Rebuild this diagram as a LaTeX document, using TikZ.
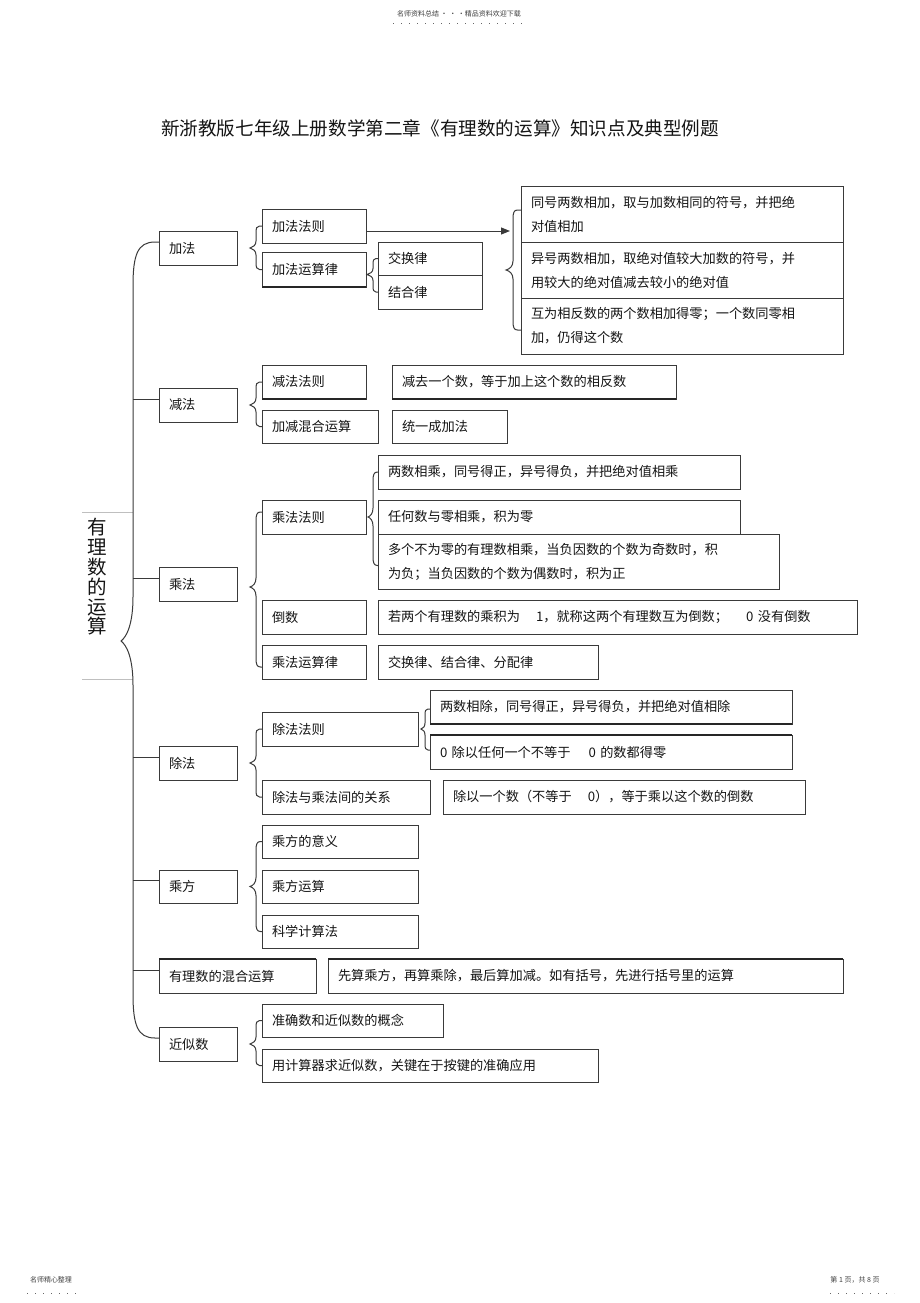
\documentclass[tikz,border=0pt]{standalone}
\usepackage{fontspec}
\setmainfont{Noto Sans CJK SC}
\usetikzlibrary{calc,arrows.meta}
\definecolor{lineC}{HTML}{3A3A3A}
\definecolor{textC}{HTML}{151515}
\tikzset{
  box/.style={draw=lineC, line width=1pt, inner xsep=10pt, inner ysep=0pt, outer sep=0pt,
    align=left, text=textC, font=\fontsize{13.2}{24}\selectfont},
  brc/.style={draw=lineC, line width=1pt},
  conn/.style={draw=lineC, line width=1pt},
  thk/.style={draw=black!85, line width=2pt},
  small/.style={text=black!75, font=\fontsize{7}{8}\selectfont, inner sep=0pt},
  dots/.style={draw=black!60, line width=0.8pt, dash pattern=on 0.8pt off 7.2pt}
}
\newcommand\bx[7][]{%
  \pgfmathsetmacro\bw{#5-#3}\pgfmathsetmacro\bh{#6-#4}\pgfmathsetmacro\tw{#5-#3-20}%
  \node[box,#1,anchor=north west,minimum width=\bw pt,minimum height=\bh pt,text width=\tw pt] (#2) at (#3,#4) {#7};}
% #1 arm length, #2 top end, #3 bottom end, #4 tip, #5 distance of spine from ends
\newcommand\curly[5][7pt]{%
  \draw[brc] let \p1=(#2), \p2=(#3), \p3=(#4) in
   (\p1) -- ({\x1-#5+0.5*#1},\y1)
   .. controls ({\x1-#5+0.1*#1},\y1) and ({\x1-#5},{\y1-0.3*#1}) .. ({\x1-#5},{\y1-#1})
   -- ({\x1-#5},{\y3+#1})
   .. controls ({\x1-#5},{\y3+0.4*#1}) and ({0.5*\x3+0.5*\x1-0.5*#5},{\y3+0.1*#1}) .. (\p3)
   .. controls ({0.5*\x3+0.5*\x1-0.5*#5},{\y3-0.1*#1}) and ({\x1-#5},{\y3-0.4*#1}) .. ({\x1-#5},{\y3-#1})
   -- ({\x1-#5},{\y2+#1})
   .. controls ({\x1-#5},{\y2+0.3*#1}) and ({\x1-#5+0.1*#1},\y2) .. ({\x1-#5+0.5*#1},\y2) -- (\p2);}
\begin{document}
\begin{tikzpicture}[x=1pt,y=-1pt]
\useasboundingbox[fill=white] (0,0) rectangle (920,1303);
% header / footer
\node[small] (hdr) at (459,14) {名师资料总结 · · ·精品资料欢迎下载};
\coordinate (hdl) at (393,23); \coordinate (hdr2) at (528,23);
\draw[dots] (hdl) -- (hdr2);
\node[small] (ftl) at (51,1280) {名师精心整理};
\coordinate (fl1) at (27,1293); \coordinate (fl2) at (76,1293);
\draw[dots] (fl1) -- (fl2);
\node[small] (ftr) at (855,1280) {第 1 页，共 8 页};
\coordinate (fr1) at (830,1293); \coordinate (fr2) at (894,1293);
\draw[dots] (fr1) -- (fr2);
% title
\node[text=textC, font=\fontsize{18.6}{20}\selectfont, inner sep=0pt] (title) at (440,128)
  {新浙教版七年级上册数学第二章《有理数的运算》知识点及典型例题};
% root
\node[text=textC, font=\fontsize{19.5}{19.8}\selectfont, align=center, inner sep=0pt] (root) at (97,577)
  {有\\理\\数\\的\\运\\算};
\coordinate (g1a) at (82,512); \coordinate (g1b) at (133,512);
\coordinate (g2a) at (82,679); \coordinate (g2b) at (133,679);
\draw[black!25, line width=0.6pt] (g1a) -- (g1b);
\draw[black!25, line width=0.6pt] (g2a) -- (g2b);
% ---- level 1
\bx{jiafa}{159}{231}{237}{265}{加法}
\bx{jianfa}{159}{388}{237}{422}{减法}
\bx{chengfa}{159}{567}{237}{601}{乘法}
\bx{chufa}{159}{746}{237}{780}{除法}
\bx{chengfang}{159}{870}{237}{903}{乘方}
\bx{hun}{159}{959}{316}{993}{有理数的混合运算}
\bx{jinsi}{159}{1027}{237}{1061}{近似数}
% ---- 加法
\bx{jf1}{262}{209}{366}{243}{加法法则}
\bx{jf2}{262}{252}{366}{287}{加法运算律}
\bx{jh}{378}{242}{482}{275}{交换律}
\bx{jhe}{378}{275}{482}{309}{结合律}
\bx{r1}{521}{186}{843}{242}{同号两数相加，取与加数相同的符号，并把绝\\对值相加}
\bx{r2}{521}{242}{843}{298}{异号两数相加，取绝对值较大加数的符号，并\\用较大的绝对值减去较小的绝对值}
\bx{r3}{521}{298}{843}{354}{互为相反数的两个数相加得零；一个数同零相\\加，仍得这个数}
% ---- 减法
\bx{jn1}{262}{365}{366}{399}{减法法则}
\bx{jn1r}{392}{365}{676}{399}{减去一个数，等于加上这个数的相反数}
\bx{jn2}{262}{410}{378}{443}{加减混合运算}
\bx{jn2r}{392}{410}{507}{443}{统一成加法}
% ---- 乘法
\bx{cf1}{262}{500}{366}{534}{乘法法则}
\bx{cf1a}{378}{455}{740}{489}{两数相乘，同号得正，异号得负，并把绝对值相乘}
\bx{cf1b}{378}{500}{740}{534}{任何数与零相乘，积为零}
\bx{cf1c}{378}{534}{779}{589}{多个不为零的有理数相乘，当负因数的个数为奇数时，积\\为负；当负因数的个数为偶数时，积为正}
\bx{cf2}{262}{600}{366}{634}{倒数}
\bx{cf2r}{378}{600}{857}{634}{若两个有理数的乘积为\hspace{16pt}1，就称这两个有理数互为倒数；\hspace{18pt}0 没有倒数}
\bx{cf3}{262}{645}{366}{679}{乘法运算律}
\bx{cf3r}{378}{645}{598}{679}{交换律、结合律、分配律}
% ---- 除法
\bx{cu1}{262}{712}{418}{746}{除法法则}
\bx{cu1a}{430}{690}{792}{724}{两数相除，同号得正，异号得负，并把绝对值相除}
\bx{cu1b}{430}{735}{792}{769}{0 除以任何一个不等于\hspace{18pt}0 的数都得零}
\bx{cu2}{262}{780}{430}{814}{除法与乘法间的关系}
\bx{cu2r}{443}{780}{805}{814}{除以一个数（不等于\hspace{16pt}0），等于乘以这个数的倒数}
% ---- 乘方
\bx{cfa1}{262}{825}{418}{858}{乘方的意义}
\bx{cfa2}{262}{870}{418}{903}{乘方运算}
\bx{cfa3}{262}{915}{418}{948}{科学计算法}
% ---- 混合
\bx{hunr}{328}{959}{843}{993}{先算乘方，再算乘除，最后算加减。如有括号，先进行括号里的运算}
% ---- 近似数
\bx{js1}{262}{1004}{443}{1037}{准确数和近似数的概念}
\bx{js2}{262}{1049}{598}{1082}{用计算器求近似数，关键在于按键的准确应用}
% ---- heavier edges seen in the reference
\draw[thk] (jf2.south west) -- (jf2.south east);
\draw[thk] (jn1.south west) -- (jn1.south east);
\draw[thk] (jn1r.south west) -- (jn1r.south east);
\draw[thk] (cu1a.south west) -- (cu1a.south east);
\draw[thk] (cu1b.north west) -- (cu1b.north east);
\draw[thk] (hun.north west) -- (hun.north east);
\draw[thk] (hunr.north west) -- (hunr.north east);
% ---- arrow
\coordinate (arrtip) at (510,231);
\draw[conn, -{Triangle[length=9pt,width=7pt]}] (jf1.east |- arrtip) -- (arrtip);
% ---- main brace and spine
\coordinate (spine) at (133,0);
\coordinate (maintip) at (121,641);
\curly[44pt]{[yshift=6pt]jiafa.west}{[yshift=6pt]jinsi.west}{maintip}{26pt}
\foreach \n in {jianfa,chengfa,chufa,chengfang,hun}
  \draw[conn] ([yshift=6pt]\n.west -| spine) -- ([yshift=6pt]\n.west);
% ---- braces
\curly{jf1.west}{jf2.west}{[xshift=13pt]jiafa.east}{6pt}
\curly[6pt]{jh.west}{jhe.west}{[xshift=1pt,yshift=-5pt]jf2.east}{5pt}
\curly[9pt]{[yshift=4pt]r1.west}{[yshift=-4pt]r3.west}{[xshift=-15pt]r2.west}{8pt}
\curly{jn1.west}{jn2.west}{[xshift=13pt]jianfa.east}{6pt}
\curly[9pt]{[yshift=5pt]cf1.west}{[yshift=-5pt]cf3.west}{[xshift=13pt,yshift=-3pt]chengfa.east}{6pt}
\curly[9pt]{cf1a.west}{[yshift=-4pt]cf1c.west}{[xshift=2pt]cf1.east}{5pt}
\curly{cu1.west}{cu2.west}{[xshift=13pt]chufa.east}{6pt}
\curly[6pt]{[yshift=-2pt]cu1a.west}{[yshift=2pt]cu1b.west}{[xshift=3pt]cu1.east}{5pt}
\curly[9pt]{cfa1.west}{cfa3.west}{[xshift=13pt]chengfang.east}{6pt}
\curly{js1.west}{js2.west}{[xshift=13pt]jinsi.east}{6pt}
\end{tikzpicture}
\end{document}
